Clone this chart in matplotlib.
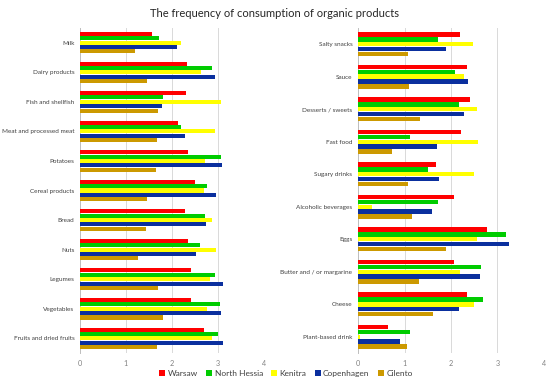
import numpy as np
import matplotlib
matplotlib.use("Agg")
import matplotlib.pyplot as plt

plt.rcParams['font.family'] = ['Lato', 'DejaVu Sans']

cities = ["Warsaw", "North Hessia", "Kenitra", "Copenhagen", "Cilento"]
colors = ["#FF0000", "#00CC00", "#FFFF00", "#0A2F9E", "#CC9900"]

left_cats = ["Milk", "Dairy products", "Fish and shellfish", "Meat and processed meat",
             "Potatoes", "Cereal products", "Bread", "Nuts", "Legumes", "Vegetables",
             "Fruits and dried fruits"]
left_warsaw = [1.57, 2.32, 2.30, 2.14, 2.34, 2.50, 2.28, 2.34, 2.41, 2.41, 2.69]
left_hessia = [1.72, 2.88, 1.81, 2.20, 3.07, 2.76, 2.72, 2.60, 2.93, 3.04, 3.01]
left_kenitra = [2.19, 2.64, 3.07, 2.93, 2.72, 2.70, 2.88, 2.95, 2.83, 2.76, 2.88]
left_copen = [2.11, 2.94, 1.78, 2.28, 3.09, 2.96, 2.73, 2.53, 3.11, 3.06, 3.11]
left_cilento = [1.20, 1.45, 1.69, 1.68, 1.66, 1.46, 1.43, 1.27, 1.70, 1.80, 1.68]

right_cats = ["Salty snacks", "Sauce", "Desserts / sweets", "Fast food", "Sugary drinks",
              "Alcoholic beverages", "Eggs", "Butter and / or margarine", "Cheese",
              "Plant-based drink"]
right_warsaw = [2.19, 2.35, 2.40, 2.21, 1.68, 2.07, 2.77, 2.06, 2.35, 0.64]
right_hessia = [1.71, 2.08, 2.17, 1.11, 1.50, 1.73, 3.19, 2.65, 2.69, 1.11]
right_kenitra = [2.47, 2.29, 2.55, 2.58, 2.50, 0.29, 2.55, 2.19, 2.49, 0.04]
right_copen = [1.89, 2.37, 2.29, 1.70, 1.75, 1.60, 3.24, 2.62, 2.17, 0.91]
right_cilento = [1.07, 1.09, 1.33, 0.73, 1.07, 1.16, 1.90, 1.32, 1.62, 1.05]

x_ticks = [0, 1, 2, 3, 4]

fig = plt.figure(figsize=(5.5, 3.88), dpi=100)
ax1 = fig.add_axes([0.1455, 0.090, 0.3345, 0.838])
ax2 = fig.add_axes([0.651, 0.090, 0.338, 0.838])

def draw(ax, cats, series):
    n = len(cats)
    y = np.arange(n)
    bh = 0.148
    handles = []
    for i, (vals, col) in enumerate(zip(series, colors)):
        off = (i - 2) * bh
        h = ax.barh(y + off, vals, height=bh * 0.92, color=col, edgecolor='none',
                    zorder=3, label=cities[i])
        handles.append(h)
    ax.set_yticks(y)
    ax.set_yticklabels(cats, fontsize=4.6, color='#404040')
    ax.set_ylim(n - 0.5, -0.5)
    ax.set_xlim(0, 4)
    ax.set_xticks(x_ticks)
    ax.set_xticklabels([str(t) for t in x_ticks], fontsize=5.2, color='#808080')
    ax.tick_params(axis='y', length=0, pad=4)
    ax.tick_params(axis='x', length=0, pad=5)
    ax.grid(axis='x', color='#D9D9D9', linewidth=0.7, zorder=0)
    for s in ['top', 'right', 'bottom']:
        ax.spines[s].set_visible(False)
    ax.spines['left'].set_color('#BFBFBF')
    ax.spines['left'].set_linewidth(0.7)
    return handles

handles = draw(ax1, left_cats, [left_warsaw, left_hessia, left_kenitra, left_copen, left_cilento])
draw(ax2, right_cats, [right_warsaw, right_hessia, right_kenitra, right_copen, right_cilento])

fig.text(0.5, 0.965, "The frequency of consumption of organic products", ha='center',
         va='center', fontsize=8, color='#262626')

fig.legend(handles=handles, labels=cities, loc='center', bbox_to_anchor=(0.52, 0.038),
           ncol=5, frameon=False, fontsize=6, handlelength=0.7, handleheight=0.7,
           handletextpad=0.3, columnspacing=1.0, labelcolor='#404040')

fig.savefig("out.png", dpi=100, facecolor='white')
